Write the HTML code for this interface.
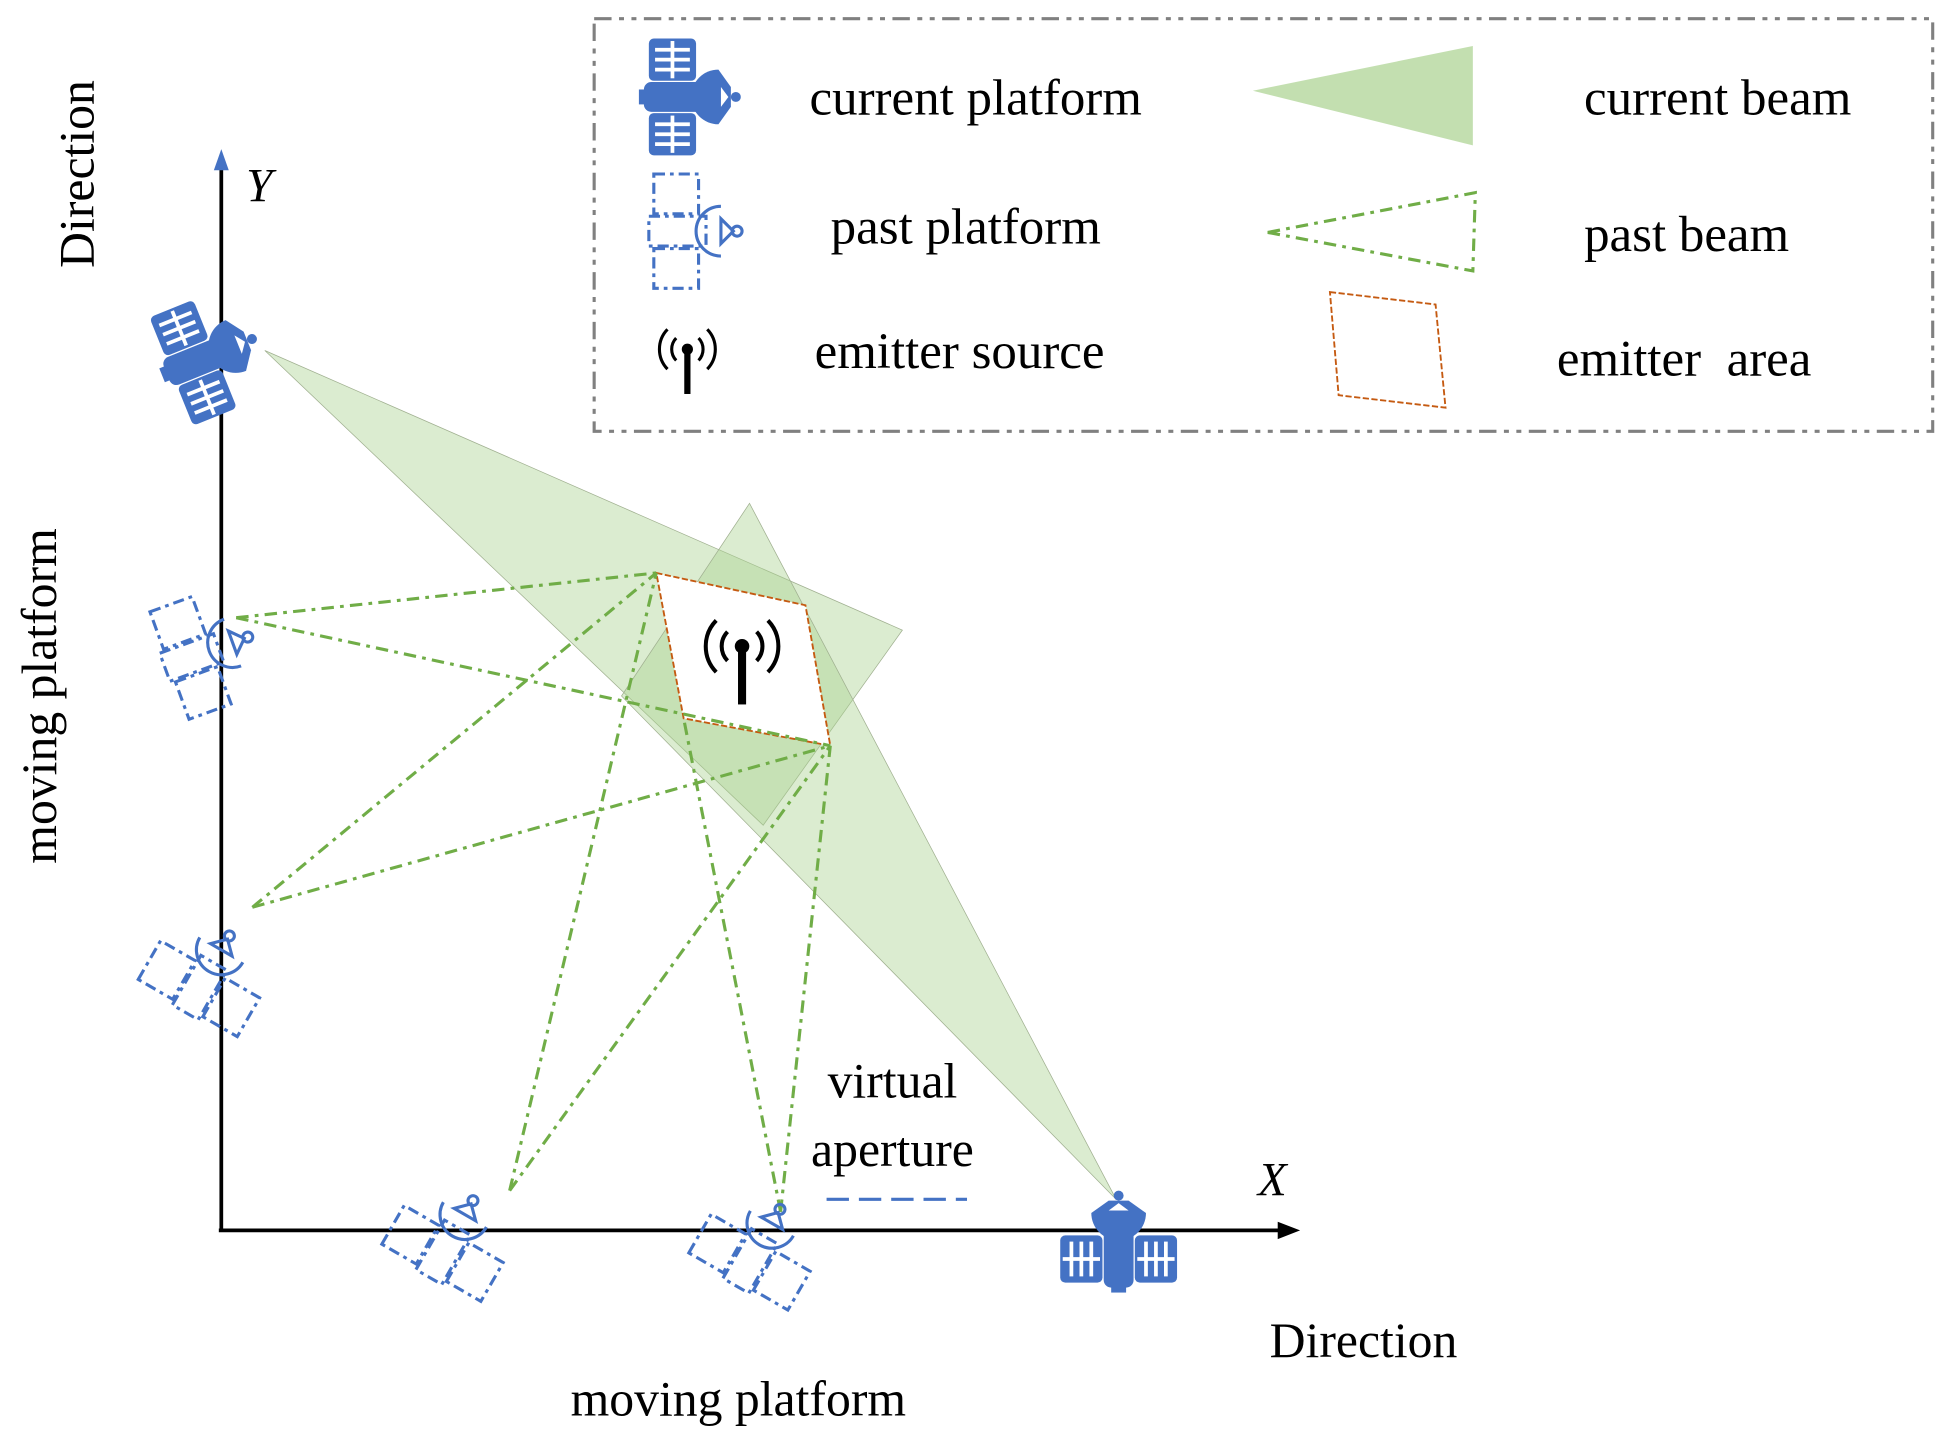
<!DOCTYPE html>
<html><head><meta charset="utf-8"><style>html,body{margin:0;padding:0;background:#fff}svg{display:block}</style></head>
<body>
<svg width="1939" height="1433" viewBox="0 0 1560 1153" xmlns="http://www.w3.org/2000/svg" font-family="'Liberation Serif', serif">
<defs>
<g id="sat">
  <rect x="-24" y="-47" width="38" height="34" rx="4" fill="#4472c4"/>
  <rect x="-24" y="13" width="38" height="34" rx="4" fill="#4472c4"/>
  <g stroke="#fff" stroke-width="3">
    <line x1="-19" y1="-38" x2="9" y2="-38"/><line x1="-19" y1="-30" x2="9" y2="-30"/><line x1="-19" y1="-22" x2="9" y2="-22"/>
    <line x1="-19" y1="22" x2="9" y2="22"/><line x1="-19" y1="30" x2="9" y2="30"/><line x1="-19" y1="38" x2="9" y2="38"/>
    <line x1="-5" y1="-45" x2="-5" y2="-15"/><line x1="-5" y1="15" x2="-5" y2="45"/>
  </g>
  <rect x="-28" y="-12" width="48" height="24" rx="6" fill="#4472c4"/>
  <rect x="-32" y="-6" width="6" height="12" fill="#4472c4"/>
  <rect x="18" y="-3" width="8" height="6" fill="#4472c4"/>
  <path d="M32,-22 A22,22 0 0 0 32,22 L42,8 L42,-8 Z" fill="#4472c4"/>
  <path d="M34,-8 L40,0 L34,8 Z" fill="#fff"/>
  <circle cx="46" cy="0" r="4" fill="#4472c4"/>
</g>
<g id="psat" fill="none" stroke="#4472c4" stroke-width="2.5" stroke-dasharray="9 4 3 4">
  <rect x="-22" y="-46" width="36" height="32"/>
  <rect x="-22" y="14" width="36" height="32"/>
  <rect x="-26" y="-12" width="46" height="24"/>
  <path d="M32,-20 A20,20 0 0 0 32,20" stroke-dasharray="none"/>
  <path d="M32,-10 L42,0 L32,10 Z" stroke-dasharray="none"/>
  <circle cx="45" cy="0" r="4" stroke-dasharray="none"/>
</g>
<g id="emit">
  <circle cx="0" cy="0" r="4.5" fill="#000"/>
  <rect x="-2.5" y="0" width="5" height="36" fill="#000"/>
  <g fill="none" stroke="#000" stroke-width="2.5">
    <path d="M-9,-9 A13,13 0 0 0 -9,9"/><path d="M9,-9 A13,13 0 0 1 9,9"/>
    <path d="M-16,-16 A23,23 0 0 0 -16,16"/><path d="M16,-16 A23,23 0 0 1 16,16"/>
  </g>
</g>
</defs>

<!-- beams -->
<polygon points="213,282 726,507 614,664" fill="#a9d18e" fill-opacity="0.42" stroke="#a0b090" stroke-width="0.6"/>
<polygon points="898,965 603,405 500,560" fill="#a9d18e" fill-opacity="0.42" stroke="#a0b090" stroke-width="0.6"/>

<!-- emitter area -->
<polygon points="528,461 648,487 668,600 550,578" fill="#fff" stroke="#c55a11" stroke-width="1.5" stroke-dasharray="5 2"/>
<use href="#emit" transform="translate(597,520) scale(1.3)"/>

<!-- dashed lines -->
<g stroke="#70ad47" stroke-width="2.5" fill="none" stroke-dasharray="10 5 3 5">
  <line x1="190" y1="497" x2="528" y2="461"/><line x1="190" y1="497" x2="668" y2="600"/>
  <line x1="203" y1="730" x2="528" y2="461"/><line x1="203" y1="730" x2="668" y2="600"/>
  <line x1="410" y1="958" x2="528" y2="461"/><line x1="410" y1="958" x2="668" y2="600"/>
  <line x1="628" y1="975" x2="550" y2="578"/><line x1="628" y1="975" x2="668" y2="600"/>
</g>

<!-- axes -->
<line x1="178" y1="990" x2="178" y2="135" stroke="#000" stroke-width="3"/>
<polygon points="178,120 172,137 184,137" fill="#4472c4"/>
<line x1="176" y1="990" x2="1030" y2="990" stroke="#000" stroke-width="3"/>
<polygon points="1046,990 1028,983 1028,997" fill="#000"/>
<text x="198" y="162" font-size="38" font-style="italic">Y</text>
<text x="1012" y="962" font-size="38" font-style="italic">X</text>

<!-- satellites -->
<use href="#sat" transform="translate(160,290) rotate(-22)"/>
<use href="#sat" transform="translate(900,1008) rotate(-90)"/>
<use href="#psat" transform="translate(157,528) rotate(-20)"/>
<use href="#psat" transform="translate(162,792) rotate(-60)"/>
<use href="#psat" transform="translate(358,1005) rotate(-60)"/>
<use href="#psat" transform="translate(605,1012) rotate(-60)"/>

<!-- labels -->
<text transform="translate(75,140) rotate(-90)" font-size="40" text-anchor="middle">Direction</text>
<text transform="translate(45,560) rotate(-90)" font-size="40" text-anchor="middle">moving platform</text>
<text x="1097" y="1092" font-size="40" text-anchor="middle">Direction</text>
<text x="594" y="1139" font-size="40" text-anchor="middle">moving platform</text>
<text x="718" y="883" font-size="40" text-anchor="middle">virtual</text>
<text x="718" y="938" font-size="40" text-anchor="middle">aperture</text>
<line x1="665" y1="965" x2="778" y2="965" stroke="#4472c4" stroke-width="2.5" stroke-dasharray="18 8"/>

<!-- legend -->
<rect x="478" y="15" width="1077" height="332" fill="none" stroke="#808080" stroke-width="2.5" stroke-dasharray="14 6 4 6 4 6"/>
<use href="#sat" transform="translate(546,78)"/>
<use href="#psat" transform="translate(548,186)"/>
<use href="#emit" transform="translate(553,281)"/>
<text x="785" y="92" font-size="41" text-anchor="middle">current platform</text>
<text x="777" y="196" font-size="41" text-anchor="middle">past platform</text>
<text x="772" y="296" font-size="41" text-anchor="middle">emitter source</text>
<polygon points="1008,73 1185,37 1185,117" fill="#a9d18e" fill-opacity="0.7"/>
<polygon points="1020,187 1187,155 1185,218" fill="none" stroke="#70ad47" stroke-width="2.5" stroke-dasharray="10 5 3 5"/>
<polygon points="1070,235 1155,245 1163,328 1077,318" fill="none" stroke="#c55a11" stroke-width="1.5" stroke-dasharray="5 2"/>
<text x="1382" y="92" font-size="41" text-anchor="middle">current beam</text>
<text x="1357" y="202" font-size="41" text-anchor="middle">past beam</text>
<text x="1355" y="302" font-size="41" text-anchor="middle" xml:space="preserve">emitter  area</text>
</svg>
</body></html>
